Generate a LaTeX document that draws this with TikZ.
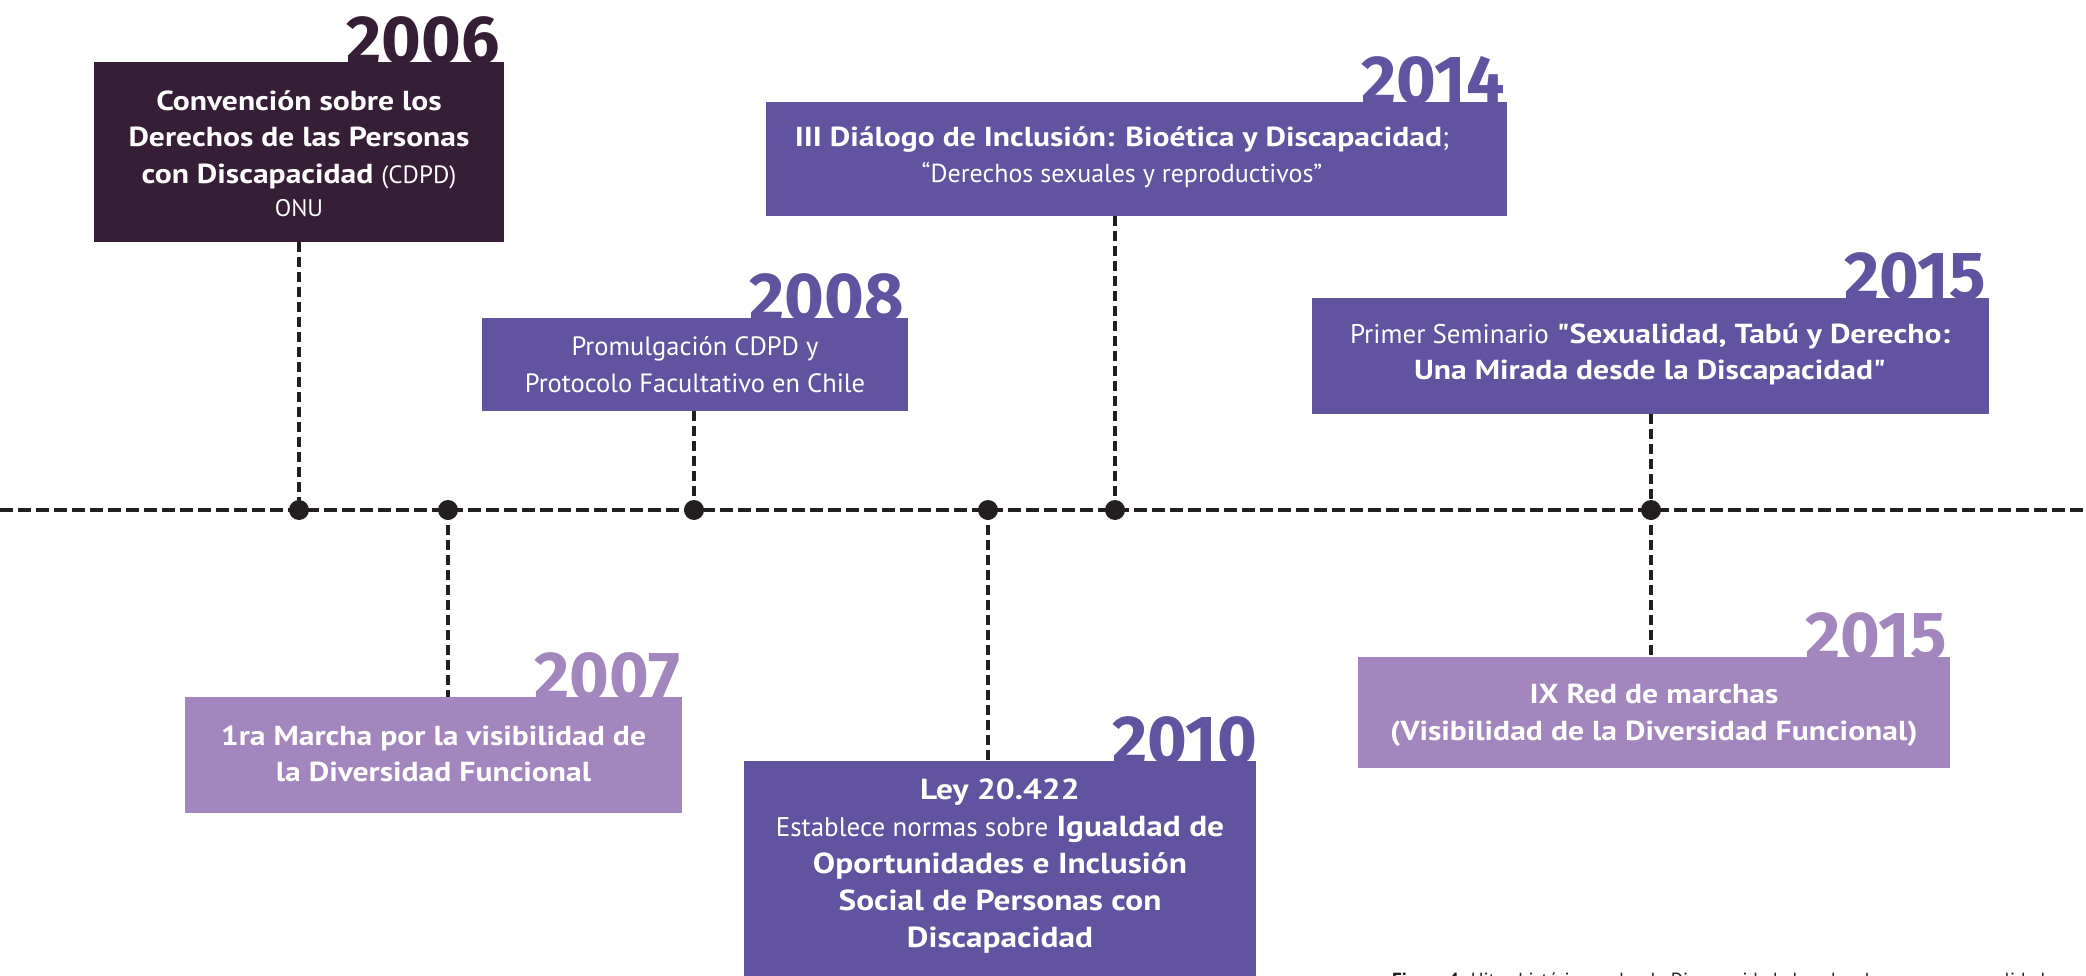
\documentclass[tikz,border=0pt]{standalone}
\usepackage{fontspec}
\setmainfont{PT Sans}[FakeStretch=1.15]
\newfontfamily\lt{PT Sans}
\newfontfamily\sqfont{PT Sans}[FakeStretch=1.15, Ligatures=TeXOff]
\newfontfamily\yearfont{Fira Sans}
\definecolor{cdark}{HTML}{361E36}
\definecolor{cpurple}{HTML}{6153A0}
\definecolor{clav}{HTML}{A286BD}
\definecolor{cink}{HTML}{231F20}
\newcommand{\sq}{{\sqfont "}}
\tikzset{
  box/.style={rectangle, inner sep=0pt, draw=none},
  txt/.style={align=center, text=white, inner sep=0pt},
  yearlbl/.style={anchor=base east, inner sep=0pt, font=\yearfont\bfseries\fontsize{68}{68}\selectfont},
  hline/.style={draw=cink, line width=4pt, dash pattern=on 12.5pt off 5.5pt},
  vconn/.style={draw=cink, line width=3.5pt, dash pattern=on 10pt off 5pt},
  tdot/.style={circle, fill=cink, inner sep=0pt, minimum size=20pt},
}
\begin{document}
\begin{tikzpicture}[x=1pt,y=-1pt]
\useasboundingbox (0,0) rectangle (2086,976);
% timeline
\coordinate (L) at (0,510);
\coordinate (R) at (2086,510);
\coordinate (p2006) at (299,510);
\coordinate (p2007) at (448,510);
\coordinate (p2008) at (694,510);
\coordinate (p2010) at (988,510);
\coordinate (p2014) at (1115,510);
\coordinate (p2015) at (1651,510);
\draw[hline] (L) -- (R);
% years (behind boxes)
\node[yearlbl, text=cdark] (y2006) at (500,64) {2006};
\node[yearlbl, text=cpurple] (y2008) at (904,320) {2008};
\node[yearlbl, text=cpurple] (y2014) at (1505,104) {2014};
\node[yearlbl, text=cpurple] (y2015a) at (1986,300) {2015};
\node[yearlbl, text=clav] (y2007) at (680,699) {2007};
\node[yearlbl, text=cpurple] (y2010) at (1257,763) {2010};
\node[yearlbl, text=clav] (y2015b) at (1947,659) {2015};
% boxes
\node[box, fill=cdark, minimum width=410pt, minimum height=180pt] (b2006) at (299,152) {};
\node[box, fill=cpurple, minimum width=426pt, minimum height=93pt] (b2008) at (695,364.5) {};
\node[box, fill=cpurple, minimum width=741pt, minimum height=114pt] (b2014) at (1136.5,159) {};
\node[box, fill=cpurple, minimum width=677pt, minimum height=116pt] (b2015a) at (1650.5,356) {};
\node[box, fill=clav, minimum width=497pt, minimum height=116pt] (b2007) at (433.5,755) {};
\node[box, fill=cpurple, minimum width=512pt, minimum height=240pt] (b2010) at (1000,881) {};
\node[box, fill=clav, minimum width=592pt, minimum height=111pt] (b2015b) at (1654,712.5) {};
% texts
\node[txt, font=\bfseries\fontsize{27.5}{36.5}\selectfont] (t2006) at (299,153.5) {Convención sobre los\\ Derechos de las Personas\\ con Discapacidad {\lt\mdseries\fontsize{25}{36.5}\selectfont (CDPD)}\\[-3pt] {\lt\mdseries\fontsize{24}{27}\selectfont ONU}};
\node[txt, font=\lt\fontsize{26.5}{37}\selectfont] (t2008) at (695,365) {Promulgación CDPD y\\ Protocolo Facultativo en Chile};
\node[txt, font=\bfseries\fontsize{27.5}{36}\selectfont] (t2014) at (1122,157) {III Diálogo de Inclusión: Bioética y Discapacidad{\lt\mdseries;}\\ {\lt\mdseries\fontsize{26}{36}\selectfont “Derechos sexuales y reproductivos”}};
\node[txt, font=\bfseries\fontsize{27.5}{36}\selectfont] (t2015a) at (1650,354.5) {{\lt\mdseries\fontsize{27}{36}\selectfont Primer Seminario} \sq Sexualidad, Tabú y Derecho:\\ Una Mirada desde la Discapacidad\sq};
\node[txt, font=\bfseries\fontsize{27.5}{36}\selectfont] (t2007) at (433.5,753.5) {1ra Marcha por la visibilidad de\\ la Diversidad Funcional};
\node[txt, font=\bfseries\fontsize{29}{37}\selectfont] (t2010) at (1000,866.5) {Ley 20.422\\ {\lt\mdseries\fontsize{27}{37}\selectfont Establece normas sobre} Igualdad de\\ Oportunidades e Inclusión\\ Social de Personas con\\ Discapacidad};
\node[txt, font=\bfseries\fontsize{27.5}{37}\selectfont] (t2015b) at (1654,715) {IX Red de marchas\\ (Visibilidad de la Diversidad Funcional)};
% connectors
\draw[vconn] (b2006.south) -- (p2006);
\draw[vconn] (p2007) -- (b2007.north -| p2007);
\draw[vconn] (b2008.south -| p2008) -- (p2008);
\draw[vconn] (p2010) -- (b2010.north -| p2010);
\draw[vconn] (b2014.south -| p2014) -- (p2014);
\draw[vconn] (b2015a.south -| p2015) -- (p2015);
\draw[vconn] (p2015) -- (b2015b.north -| p2015);
% dots
\node[tdot] (d2006) at (p2006) {};
\node[tdot] (d2007) at (p2007) {};
\node[tdot] (d2008) at (p2008) {};
\node[tdot] (d2010) at (p2010) {};
\node[tdot] (d2014) at (p2014) {};
\node[tdot] (d2015) at (p2015) {};
% caption
\node[anchor=base west, inner sep=0pt, text=cink, font=\lt\fontsize{19}{19}\selectfont] (cap) at (1392,986) {\textbf{Figura 4:} Hitos históricos sobre la Discapacidad, derechos humanos y sexualidad};
\end{tikzpicture}
\end{document}
